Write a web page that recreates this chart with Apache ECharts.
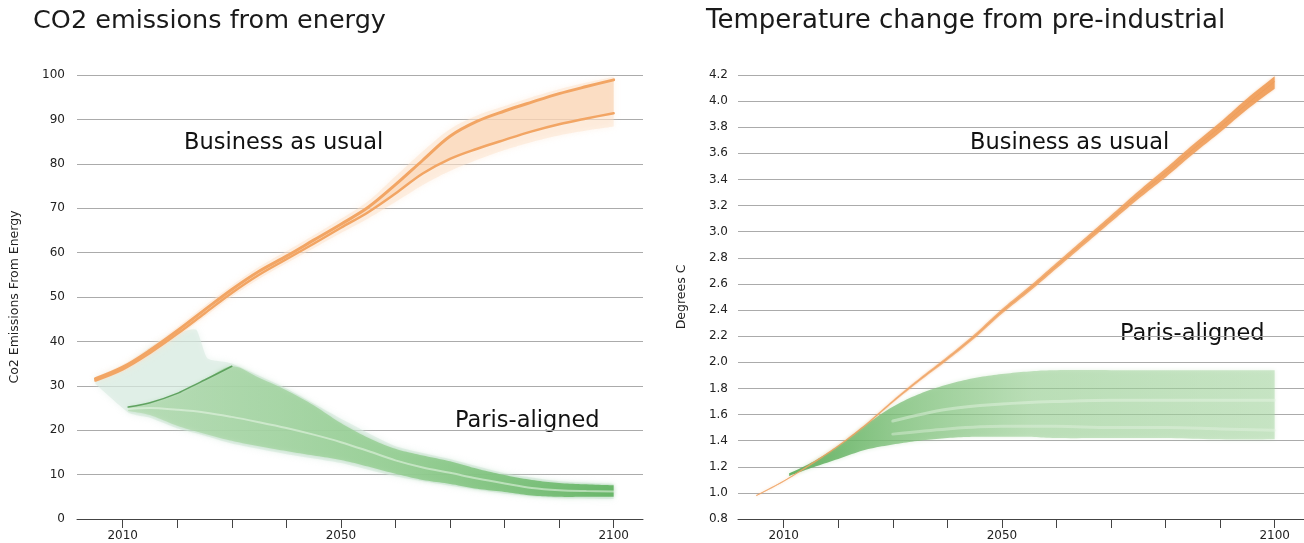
<!DOCTYPE html>
<html>
<head>
<meta charset="utf-8">
<script src="https://cdn.jsdelivr.net/npm/echarts@6/dist/echarts.min.js"></script>
<style>
html, body { margin: 0; padding: 0; background: #fff; }
#main { width: 1304px; height: 543px; }
</style>
</head>
<body>
<div id="main"></div>
<script>
// ---- data -----------------------------------------------------------
const YEARS = [2005, 2010, 2015, 2020, 2025, 2030, 2035, 2040, 2045, 2050,
               2055, 2060, 2065, 2070, 2075, 2080, 2085, 2090, 2095, 2100];

// CO2 emissions from energy, business as usual (two scenario lines + spread)
const co2BauUpper   = [31.6, 34.2, 38.0, 42.4, 47.1, 51.7, 55.8, 59.2, 62.8, 66.4, 70.2, 75.3, 80.8, 86.2, 89.6, 91.9, 93.9, 95.8, 97.4, 98.9];
const co2BauLower   = [31.2, 33.7, 37.4, 41.7, 46.3, 50.9, 55.0, 58.5, 62.0, 65.6, 69.1, 73.3, 77.8, 81.1, 83.4, 85.4, 87.3, 88.9, 90.2, 91.4];
const co2BauEnvLow  = [30.8, 33.1, 36.7, 41.0, 45.5, 50.1, 54.1, 57.6, 61.0, 64.4, 67.7, 71.4, 75.2, 78.4, 80.9, 83.1, 84.9, 86.4, 87.5, 88.4];
const co2BauEnvHigh = [32.0, 34.8, 38.7, 43.2, 48.0, 52.6, 56.8, 60.3, 63.9, 67.6, 71.6, 77.2, 82.8, 87.8, 90.9, 93.0, 95.0, 96.8, 98.3, 99.6];

// CO2 emissions from energy, Paris-aligned: outer haze
const co2ParisHazeYears = [2005, 2011, 2015, 2020, 2023.5, 2025.5, 2030, 2040, 2050, 2060, 2070, 2080, 2090, 2100];
const co2ParisHazeLow   = [30.4, 24.0, 22.8, 20.4, 19.3, 18.6, 17.0, 14.6, 12.6, 9.6, 7.5, 5.7, 4.7, 4.5];
const co2ParisHazeHigh  = [31.8, 34.7, 38.7, 41.8, 42.6, 36.2, 35.0, 29.4, 22.6, 16.4, 13.5, 10.3, 8.5, 7.9];

// CO2 emissions from energy, Paris-aligned: scenario range
const co2ParisYears = [2011, 2015, 2020, 2025, 2030, 2035, 2040, 2045, 2050, 2055, 2060, 2065, 2070, 2075, 2080, 2085, 2090, 2095, 2100];
const co2ParisLow   = [24.3, 23.4, 21.0, 19.2, 17.6, 16.4, 15.3, 14.3, 13.3, 11.8, 10.2, 8.8, 7.9, 6.8, 6.1, 5.3, 5.0, 5.0, 5.0];
const co2ParisHigh  = [25.2, 26.2, 28.3, 31.3, 34.4, 31.8, 29.0, 25.6, 21.6, 18.3, 15.8, 14.3, 13.0, 11.3, 9.9, 8.8, 8.1, 7.8, 7.6];
const co2ParisMid   = [24.8, 25.0, 24.6, 24.0, 23.0, 21.8, 20.5, 19.0, 17.3, 15.3, 13.2, 11.6, 10.4, 9.1, 8.0, 7.0, 6.5, 6.3, 6.2];
const co2ParisPeakYears = [2011, 2015, 2020, 2025, 2030];
const co2ParisPeak      = [25.2, 26.2, 28.3, 31.3, 34.4];

// Temperature change from pre-industrial, business as usual
const tempBauMid  = [0.980, 1.090, 1.220, 1.360, 1.520, 1.700, 1.870, 2.030, 2.200, 2.390, 2.560, 2.740, 2.920, 3.100, 3.280, 3.450, 3.630, 3.800, 3.980, 4.150];
const tempBauLow  = [0.975, 1.085, 1.214, 1.353, 1.512, 1.690, 1.858, 2.016, 2.184, 2.372, 2.540, 2.718, 2.896, 3.074, 3.250, 3.416, 3.594, 3.762, 3.938, 4.095];
const tempBauHigh = [0.985, 1.095, 1.226, 1.367, 1.528, 1.710, 1.882, 2.044, 2.216, 2.408, 2.580, 2.762, 2.944, 3.126, 3.310, 3.484, 3.666, 3.838, 4.022, 4.190];

// Temperature change from pre-industrial, Paris-aligned
const tempParisYears = [2011, 2015, 2020, 2025, 2030, 2035, 2040, 2045, 2050, 2055, 2060, 2070, 2080, 2090, 2100];
const tempParisLow   = [1.13, 1.19, 1.26, 1.33, 1.37, 1.40, 1.42, 1.43, 1.43, 1.43, 1.42, 1.42, 1.42, 1.41, 1.41];
const tempParisHigh  = [1.15, 1.23, 1.36, 1.52, 1.66, 1.76, 1.83, 1.88, 1.91, 1.93, 1.94, 1.94, 1.94, 1.94, 1.94];
const tempParisStripeYears = [2030, 2040, 2050, 2060, 2070, 2080, 2090, 2100];
const tempParisStripeA = [1.55, 1.64, 1.68, 1.70, 1.71, 1.71, 1.71, 1.71];
const tempParisStripeB = [1.45, 1.49, 1.51, 1.51, 1.50, 1.50, 1.49, 1.48];

// axes
const X_TICKS  = [2010, 2020, 2030, 2040, 2050, 2060, 2070, 2080, 2090, 2100];
const X_LABELS = [2010, 2050, 2100];
const X_MIN = 2001.62, X_MAX = 2105.38;

const TITLES = ['CO2 emissions from energy', 'Temperature change from pre-industrial'];
const Y_NAMES = ['Co2 Emissions From Energy', 'Degrees C'];
const NOTES = ['Business as usual', 'Paris-aligned'];

// ---- helpers --------------------------------------------------------
const FONT = '"DejaVu Sans", sans-serif';
const pairs = (xs, ys) => xs.map((x, i) => [x, ys[i]]);
const hGrad = (stops) => new echarts.graphic.LinearGradient(0, 0, 1, 0,
  stops.map(([o, c]) => ({ offset: o, color: c })));

// Catmull-Rom resampling of pixel points so band edges curve smoothly
function smoothPts(pts, k) {
  if (pts.length < 3) return pts.slice();
  const out = [pts[0]];
  const steps = 10;
  for (let i = 0; i < pts.length - 1; i++) {
    const p0 = pts[Math.max(i - 1, 0)], p1 = pts[i], p2 = pts[i + 1], p3 = pts[Math.min(i + 2, pts.length - 1)];
    const c1 = [p1[0] + (p2[0] - p0[0]) * k / 6, p1[1] + (p2[1] - p0[1]) * k / 6];
    const c2 = [p2[0] - (p3[0] - p1[0]) * k / 6, p2[1] - (p3[1] - p1[1]) * k / 6];
    for (let s = 1; s <= steps; s++) {
      const t = s / steps, u = 1 - t;
      out.push([
        u * u * u * p1[0] + 3 * u * u * t * c1[0] + 3 * u * t * t * c2[0] + t * t * t * p2[0],
        u * u * u * p1[1] + 3 * u * u * t * c1[1] + 3 * u * t * t * c2[1] + t * t * t * p2[1]
      ]);
    }
  }
  return out;
}

// a filled range between a low and a high curve, drawn as one polygon
function band(axis, xs, lo, hi, style, k) {
  const tension = k == null ? 1 : k;
  return {
    type: 'custom', coordinateSystem: 'cartesian2d', xAxisIndex: axis, yAxisIndex: axis,
    silent: true, data: xs.map((x, i) => [x, lo[i], hi[i]]),
    encode: { x: 0, y: [1, 2] },
    renderItem: (params, api) => {
      if (params.dataIndex !== 0) return null;
      const top = smoothPts(xs.map((x, i) => api.coord([x, hi[i]])), tension);
      const bot = smoothPts(xs.map((x, i) => api.coord([x, lo[i]])), tension).reverse();
      return { type: 'polygon', shape: { points: top.concat(bot) }, style: style };
    }
  };
}
function curve(axis, xs, ys, color, width, opacity, smooth) {
  return {
    type: 'line', xAxisIndex: axis, yAxisIndex: axis, symbol: 'none', silent: true,
    smooth: smooth == null ? 0.35 : smooth, data: pairs(xs, ys),
    lineStyle: { color: color, width: width, opacity: opacity == null ? 1 : opacity, cap: 'round' },
    emphasis: { disabled: true }
  };
}

function xAxis(gridIndex) {
  return {
    type: 'value', gridIndex: gridIndex, min: X_MIN, max: X_MAX,
    axisLine: { show: true, lineStyle: { color: '#444', width: 1 } },
    axisTick: { show: true, customValues: X_TICKS, length: 9, inside: false,
                lineStyle: { color: '#444', width: 1 } },
    axisLabel: { customValues: X_LABELS, margin: 11, color: '#222',
                 fontFamily: FONT, fontSize: 12, formatter: v => String(v) },
    splitLine: { show: false }
  };
}
function yAxis(gridIndex, min, max, interval, digits, nameGap, labelMargin) {
  return {
    type: 'value', gridIndex: gridIndex, min: min, max: max, interval: interval,
    name: Y_NAMES[gridIndex], nameLocation: 'middle', nameGap: nameGap, nameRotate: 90,
    nameTextStyle: { color: '#222', fontFamily: FONT, fontSize: 12.5 },
    axisLine: { show: false }, axisTick: { show: false },
    axisLabel: { margin: labelMargin, color: '#222', fontFamily: FONT, fontSize: 12,
                 formatter: v => v.toFixed(digits) },
    splitLine: { show: true, lineStyle: { color: '#ababab', width: 1 } }
  };
}
function note(text, left, top) {
  return { type: 'text', left: left, top: top, silent: true,
           style: { text: text, fontFamily: FONT, fontSize: 22.5, fill: '#111' } };
}

// ---- chart ----------------------------------------------------------
const chart = echarts.init(document.getElementById('main'), null, { renderer: 'canvas' });

const ORANGE = '#f2a564';
const series = [
  // left: Paris-aligned haze and range
  band(0, co2ParisHazeYears, co2ParisHazeLow, co2ParisHazeHigh,
       { fill: 'rgba(214,233,222,0.55)', shadowBlur: 6, shadowColor: 'rgba(214,233,222,0.8)' }, 0.5),
  band(0, co2ParisYears, co2ParisLow, co2ParisHigh,
       { fill: hGrad([[0, 'rgba(176,217,172,0.60)'], [0.55, 'rgba(140,202,136,0.72)'], [1, 'rgba(96,178,96,0.90)']]),
         shadowBlur: 4, shadowColor: 'rgba(120,190,120,0.5)' }),
  curve(0, co2ParisYears, co2ParisMid, 'rgba(235,248,233,0.55)', 2),
  curve(0, co2ParisPeakYears, co2ParisPeak, 'rgba(78,150,78,0.85)', 1.5, 1, 0.2),
  // left: business as usual
  band(0, YEARS, co2BauEnvLow, co2BauEnvHigh,
       { fill: 'rgba(252,224,200,0.45)', shadowBlur: 6, shadowColor: 'rgba(252,224,200,0.8)' }),
  band(0, YEARS, co2BauLower, co2BauUpper, { fill: 'rgba(248,204,166,0.45)' }),
  curve(0, YEARS, co2BauUpper, ORANGE, 3),
  curve(0, YEARS, co2BauLower, ORANGE, 2.5),

  // right: Paris-aligned
  band(1, tempParisYears, tempParisLow, tempParisHigh,
       { fill: hGrad([[0, 'rgba(84,170,84,0.90)'], [0.22, 'rgba(118,188,114,0.72)'], [0.5, 'rgba(150,205,145,0.55)'], [1, 'rgba(165,212,160,0.50)']]),
         shadowBlur: 4, shadowColor: 'rgba(150,205,145,0.45)' }),
  curve(1, tempParisStripeYears, tempParisStripeA, 'rgba(232,246,230,0.45)', 3),
  curve(1, tempParisStripeYears, tempParisStripeB, 'rgba(232,246,230,0.40)', 3),
  // right: business as usual
  band(1, YEARS, tempBauLow, tempBauHigh,
       { fill: hGrad([[0, 'rgba(242,176,120,0.65)'], [0.5, 'rgba(240,162,96,0.82)'], [1, 'rgba(240,158,90,0.92)']]),
         shadowBlur: 3, shadowColor: 'rgba(240,160,92,0.5)' }),
  curve(1, YEARS, tempBauMid, '#ee9a55', 0.8, 0.8)
];

chart.setOption({
  animation: false,
  backgroundColor: '#fff',
  title: [
    { text: TITLES[0], left: 33, top: 8, padding: 0,
      textStyle: { fontFamily: FONT, fontSize: 25.5, fontWeight: 'normal', color: '#1a1a1a' } },
    { text: TITLES[1], left: 706, top: 8, padding: 0,
      textStyle: { fontFamily: FONT, fontSize: 26, fontWeight: 'normal', color: '#1a1a1a' } }
  ],
  grid: [
    { left: 77, top: 75, width: 566, height: 444 },
    { left: 738, top: 75, width: 566, height: 444 }
  ],
  xAxis: [xAxis(0), xAxis(1)],
  yAxis: [yAxis(0, 0, 100, 10, 0, 56, 12), yAxis(1, 0.8, 4.2, 0.2, 1, 50, 10)],
  series: series,
  graphic: [
    note(NOTES[0], 184, 132),
    note(NOTES[1], 455, 410),
    note(NOTES[0], 970, 132),
    note(NOTES[1], 1120, 323)
  ]
});
</script>
</body>
</html>
